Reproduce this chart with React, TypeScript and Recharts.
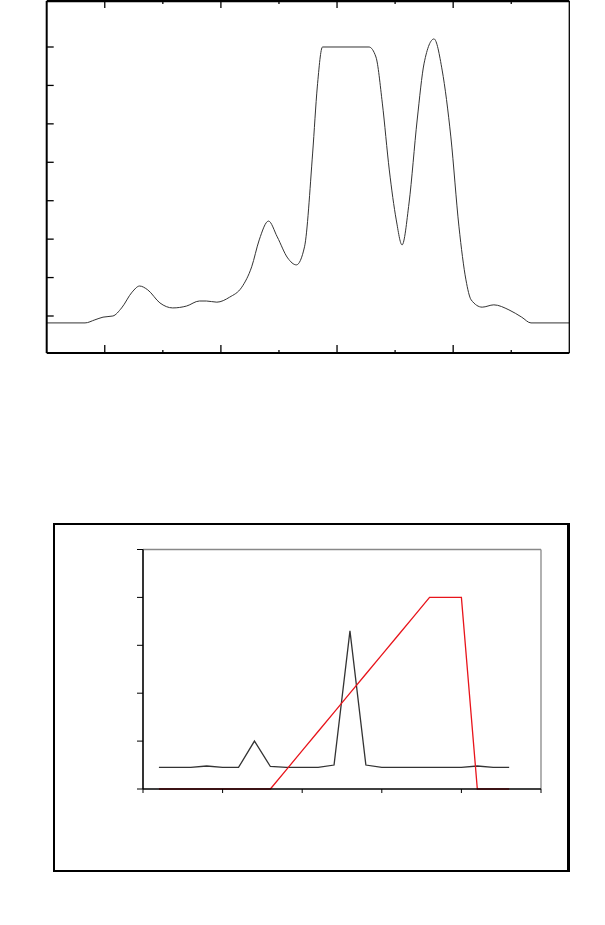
// @ts-nocheck
import React from "react";
import { LineChart, Line, XAxis, YAxis } from "recharts";

// top chromatogram trace
const traceTime = [
  0, 0.66, 0.83, 0.97, 1.14, 1.29, 1.47, 1.6, 1.74, 1.95, 2.17, 2.41, 2.63, 2.75,
  2.93, 3.15, 3.36, 3.53, 3.66, 3.82, 3.97, 4.15, 4.3, 4.44, 4.58, 4.66, 4.75,
  5.55, 5.67, 5.78, 5.9, 6.02, 6.12, 6.24, 6.38, 6.5, 6.67, 6.81, 6.96, 7.1, 7.22,
  7.31, 7.5, 7.7, 7.96, 8.18, 8.34, 9,
];
const traceSignal = [
  -0.18, -0.18, -0.1, -0.03, 0.0, 0.21, 0.62, 0.78, 0.68, 0.34, 0.21, 0.26, 0.39,
  0.39, 0.36, 0.49, 0.75, 1.28, 1.98, 2.47, 2.06, 1.51, 1.33, 1.8, 4.24, 5.96, 7.0,
  7.0, 6.74, 5.54, 3.8, 2.5, 1.85, 2.94, 5.1, 6.58, 7.21, 6.4, 4.66, 2.32, 0.94,
  0.42, 0.23, 0.29, 0.16, -0.03, -0.18, -0.18,
];
const topMajorX = [1, 3, 5, 7];
const topMinorX = [2, 4, 6, 8];
const topYTicks = [0, 1, 2, 3, 4, 5, 6, 7];

// bottom chart: fractions and gradient
const fraction = [
  0.2, 0.4, 0.6, 0.8, 1.0, 1.2, 1.4, 1.6, 1.8, 2.0, 2.2, 2.4, 2.6, 2.8, 3.0, 3.2,
  3.4, 3.6, 3.8, 4.0, 4.2, 4.4, 4.6,
];
const response = [
  0.45, 0.45, 0.45, 0.48, 0.45, 0.45, 1.0, 0.47, 0.45, 0.45, 0.45, 0.5, 3.3, 0.5,
  0.45, 0.45, 0.45, 0.45, 0.45, 0.45, 0.48, 0.45, 0.45,
];
const gradient = [
  0, 0, 0, 0, 0, 0, 0, 0, 0.4, 0.8, 1.2, 1.6, 2.0, 2.4, 2.8, 3.2, 3.6, 4.0, 4.0,
  4.0, 0, 0, 0,
];
const bottomTicks = [0, 1, 2, 3, 4, 5];

const traceData = traceTime.map((t, i) => ({ t, v: traceSignal[i] }));
const fracData = fraction.map((f, i) => ({ f, r: response[i], g: gradient[i] }));

const TOP_Y = [-0.963, 8.197];

// labels are blank in the original, keep tick marks only
const NoLabel = () => <g />;
const tickLn = { stroke: "#000", strokeWidth: 1.3 };

export default function App() {
  return (
    <div style={{ position: "absolute", left: 0, top: 0, width: 605, height: 925, background: "#fff" }}>
      <div style={{ position: "absolute", left: 0, top: -3 }}>
        <LineChart
          width={605}
          height={373}
          data={traceData}
          margin={{ top: 2, right: 34.7, left: 45.7, bottom: 15 }}
        >
          <XAxis xAxisId="b1" dataKey="t" type="number" domain={[0, 9]} ticks={topMajorX}
            orientation="bottom" height={1} tick={NoLabel} tickSize={-8}
            axisLine={{ stroke: "#000", strokeWidth: 2.2 }} tickLine={tickLn} />
          <XAxis xAxisId="b2" dataKey="t" type="number" domain={[0, 9]} ticks={topMinorX}
            orientation="bottom" height={1} tick={NoLabel} tickSize={-4} axisLine={false}
            tickLine={tickLn} />
          <XAxis xAxisId="t1" dataKey="t" type="number" domain={[0, 9]} ticks={topMajorX}
            orientation="top" height={1} tick={NoLabel} tickSize={-7}
            axisLine={{ stroke: "#000", strokeWidth: 2.4 }} tickLine={tickLn} />
          <XAxis xAxisId="t2" dataKey="t" type="number" domain={[0, 9]} ticks={topMinorX}
            orientation="top" height={1} tick={NoLabel} tickSize={-4} axisLine={false}
            tickLine={tickLn} />
          <YAxis yAxisId="l" type="number" domain={TOP_Y} ticks={topYTicks} width={1}
            tick={NoLabel} tickSize={-7} axisLine={{ stroke: "#000", strokeWidth: 2 }}
            tickLine={tickLn} />
          <YAxis yAxisId="r" orientation="right" type="number" domain={TOP_Y} width={1}
            tick={false} tickLine={false} axisLine={{ stroke: "#000", strokeWidth: 1.3 }} />
          <Line xAxisId="b1" yAxisId="l" dataKey="v" type="monotone" stroke="#333"
            strokeWidth={1} dot={false} isAnimationActive={false} />
        </LineChart>
      </div>

      <div style={{
        position: "absolute", left: 53, top: 523, width: 512, height: 345,
        borderStyle: "solid", borderColor: "#000", borderWidth: "2px 3px 2px 2px",
      }} />

      <div style={{ position: "absolute", left: 0, top: 510 }}>
        <LineChart
          width={605}
          height={360}
          data={fracData}
          margin={{ top: 38.5, right: 63, left: 142, bottom: 80 }}
        >
          <XAxis xAxisId="top" dataKey="f" type="number" domain={[0, 5]} orientation="top" height={1}
            tick={false} tickLine={false} axisLine={{ stroke: "#888", strokeWidth: 1.3 }} />
          <YAxis yAxisId="right" orientation="right" type="number" domain={[0, 5]} width={1}
            tick={false} tickLine={false} axisLine={{ stroke: "#888", strokeWidth: 1.3 }} />
          <XAxis xAxisId="x" dataKey="f" type="number" domain={[0, 5]} ticks={bottomTicks}
            height={1} tick={NoLabel} tickSize={4} axisLine={{ stroke: "#000", strokeWidth: 1.3 }}
            tickLine={{ stroke: "#000", strokeWidth: 1 }} />
          <YAxis yAxisId="y" type="number" domain={[0, 5]} ticks={bottomTicks} width={1}
            tick={NoLabel} tickSize={6} axisLine={{ stroke: "#000", strokeWidth: 1.6 }}
            tickLine={{ stroke: "#000", strokeWidth: 1 }} />
          <Line xAxisId="x" yAxisId="y" dataKey="r" type="linear" stroke="#333"
            strokeWidth={1.3} dot={false} isAnimationActive={false} />
          <Line xAxisId="x" yAxisId="y" dataKey="g" type="linear" stroke="#e8141b"
            strokeWidth={1.3} dot={false} isAnimationActive={false} />
        </LineChart>
      </div>
    </div>
  );
}
